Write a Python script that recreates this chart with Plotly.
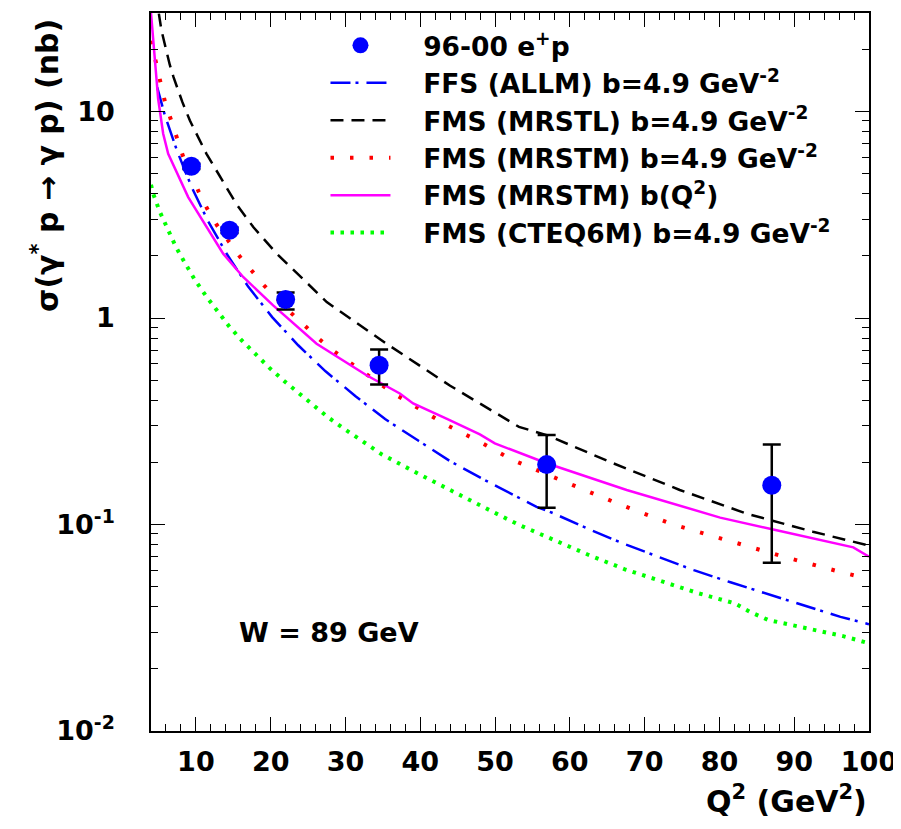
import math
import plotly.graph_objects as go

FONT = "DejaVu Sans"
PAD = "\u00a0\u00a0\u00a0"

# ---- data points (96-00 e+p) ----
q2_data = [9.4, 14.5, 22.0, 34.5, 56.9, 87.0]
sig_data = [5.43, 2.66, 1.23, 0.59, 0.195, 0.155]
sig_lo = [5.27, 2.58, 1.10, 0.476, 0.1205, 0.0653]
sig_hi = [5.59, 2.74, 1.33, 0.703, 0.271, 0.244]

# ---- model curves ----
q2_allm = [4.83, 5.86, 7.5, 9.43, 11.64, 14.18, 16.99, 20.2, 23.68, 27.34, 31.35, 35.3,
           39.72, 43.96, 48.5, 53.09, 55.55, 57.63, 62.31, 67.04, 71.8, 76.58, 81.48,
           86.38, 91.28, 96.19, 100.0]
sig_allm = [13.1, 9.57, 6.43, 4.31, 2.94, 2.03, 1.42, 1.01, 0.738, 0.552, 0.418, 0.324,
            0.255, 0.203, 0.165, 0.136, 0.1217, 0.114, 0.0958, 0.0811, 0.0698, 0.0601,
            0.0525, 0.0461, 0.0404, 0.0357, 0.0329]

q2_mrstl = [5.05, 5.4, 6.5, 7.0, 8.2, 9.2, 11.4, 14.5, 15.4, 17.7, 20.8, 27.5, 35.5,
            44.0, 53.2, 56.9, 65.8, 74.7, 83.6, 92.5, 100.0]
sig_mrstl = [29.8, 24.7, 16.9, 14.7, 11.1, 9.04, 6.26, 4.0, 3.57, 2.75, 2.05, 1.195, 0.75,
             0.47, 0.297, 0.271, 0.198, 0.147, 0.113, 0.0923, 0.079]

q2_mrstm = [4.0, 4.2, 4.7, 5.3, 5.9, 6.7, 7.5, 8.3, 10.4, 11.5, 12.8, 15.8, 17.5, 19.1,
            22.7, 24.6, 26.5, 28.4, 30.5, 32.5, 36.7, 39.0, 43.4, 48.0, 52.4, 59.5, 66.7,
            73.8, 81.3, 88.6, 96.1, 100.0]
sig_mrstm = [22.0, 20.5, 16.7, 13.6, 11.0, 9.05, 7.41, 6.04, 4.07, 3.39, 2.82, 2.0, 1.69,
             1.44, 1.06, 0.914, 0.79, 0.693, 0.611, 0.542, 0.425, 0.38, 0.305, 0.251,
             0.205, 0.16, 0.125, 0.1, 0.083, 0.0698, 0.059, 0.0545]

q2_bq2 = [4.0, 4.52, 4.96, 5.63, 6.30, 8.97, 11.43, 13.65, 16.32, 20.33, 26.14, 32.82,
          37.27, 39.05, 43.5, 47.97, 49.97, 56.9, 67.6, 80.1, 87.2, 97.9, 100.0]
sig_bq2 = [30.0, 18.7, 11.5, 7.8, 6.24, 3.85, 2.75, 2.05, 1.58, 1.152, 0.751, 0.528,
           0.431, 0.386, 0.326, 0.273, 0.247, 0.198, 0.147, 0.108, 0.0946, 0.0775, 0.0698]

q2_cteq = [4.0, 4.29, 5.19, 6.22, 7.33, 8.53, 9.87, 11.34, 12.85, 14.45, 16.15, 17.93,
           19.8, 21.67, 23.6, 25.6, 27.6, 30.0, 32.4, 34.83, 39.5, 43.96, 48.64, 53.09,
           57.77, 62.53, 67.35, 72.25, 77.15, 82.06, 84.06, 86.5, 91.64, 96.54, 100.0]
sig_cteq = [4.42, 4.0, 3.26, 2.68, 2.21, 1.85, 1.53, 1.28, 1.077, 0.911, 0.778, 0.668,
            0.575, 0.5, 0.437, 0.383, 0.332, 0.288, 0.252, 0.219, 0.178, 0.1466, 0.1205,
            0.1, 0.0841, 0.0712, 0.0607, 0.0529, 0.0465, 0.0415, 0.0378, 0.0345, 0.0314,
            0.0288, 0.0266]

# ---- axis ticks ----
x_ticks = [10, 20, 30, 40, 50, 60, 70, 80, 90, 100]
x_ticktext = [str(v) for v in x_ticks]
y_ticks = [0.01, 0.1, 1, 10]
y_ticktext = ["10<sup>-2</sup>", "10<sup>-1</sup>", "1", "10"]
y_minor = [m * 10.0 ** e for e in (-2, -1, 0, 1) for m in range(2, 10)]

fig = go.Figure()

fig.add_trace(go.Scatter(
    x=q2_allm, y=sig_allm, mode="lines", name=PAD + "FFS (ALLM) b=4.9 GeV<sup>-2</sup>",
    line=dict(color="#0000ff", width=2.5, dash="20px,5px,3px,8px"), legendrank=2))
fig.add_trace(go.Scatter(
    x=q2_mrstl, y=sig_mrstl, mode="lines", name=PAD + "FMS (MRSTL) b=4.9 GeV<sup>-2</sup>",
    line=dict(color="black", width=2.5, dash="13px,8px"), legendrank=3))
fig.add_trace(go.Scatter(
    x=q2_mrstm, y=sig_mrstm, mode="lines", name=PAD + "FMS (MRSTM) b=4.9 GeV<sup>-2</sup>",
    line=dict(color="#ff0000", width=4, dash="3.5px,16px"), legendrank=4))
fig.add_trace(go.Scatter(
    x=q2_bq2, y=sig_bq2, mode="lines", name=PAD + "FMS (MRSTM) b(Q<sup>2</sup>)",
    line=dict(color="#ff00ff", width=2.5), legendrank=5))
fig.add_trace(go.Scatter(
    x=q2_cteq, y=sig_cteq, mode="lines", name=PAD + "FMS (CTEQ6M) b=4.9 GeV<sup>-2</sup>",
    line=dict(color="#00ff00", width=4, dash="3.5px,6.5px"), legendrank=6))

fig.add_trace(go.Scatter(
    x=q2_data, y=sig_data, mode="markers", name=PAD + "96-00 e<sup>+</sup>p",
    marker=dict(color="#0000ff", size=19, line=dict(width=0)),
    error_y=dict(type="data", symmetric=False,
                 array=[h - v for h, v in zip(sig_hi, sig_data)],
                 arrayminus=[v - l for v, l in zip(sig_data, sig_lo)],
                 color="black", thickness=2.5, width=9),
    legendrank=1))

tickfont = dict(family=FONT, size=27, color="black", weight="bold")

fig.update_xaxes(
    range=[4, 100], tickmode="array", tickvals=x_ticks, ticktext=x_ticktext,
    ticks="inside", ticklen=14, tickwidth=1.3, tickcolor="black",
    showline=True, linewidth=1.5, linecolor="black", mirror="ticks",
    showgrid=False, zeroline=False, tickfont=tickfont, ticklabelstandoff=6,
    automargin=False,
    minor=dict(ticks="inside", ticklen=7, tickwidth=1, tickcolor="black",
               dtick=2, tick0=0, showgrid=False))
fig.update_yaxes(
    type="log", range=[-2, math.log10(30)], tickmode="array",
    tickvals=y_ticks, ticktext=y_ticktext,
    ticks="inside", ticklen=14, tickwidth=1.3, tickcolor="black",
    showline=True, linewidth=1.5, linecolor="black", mirror="ticks",
    showgrid=False, zeroline=False, tickfont=tickfont, ticklabelstandoff=29,
    automargin=False,
    minor=dict(ticks="inside", ticklen=7, tickwidth=1, tickcolor="black",
               tickmode="array", tickvals=y_minor, showgrid=False))

# page body has an 8px margin: figure is shrunk by 8px so the plot frame sits at
# x 151..869, y 13..731 of the 901x829 window
fig.update_layout(
    width=893, height=821,
    margin=dict(l=143, r=32, t=5, b=98, autoexpand=False),
    plot_bgcolor="white", paper_bgcolor="white",
    font=dict(family=FONT, color="black", weight="bold"),
    legend=dict(x=0.243, y=0.988, xanchor="left", yanchor="top",
                bgcolor="rgba(0,0,0,0)", borderwidth=0,
                font=dict(family=FONT, size=26.5, color="black", weight="bold"),
                itemwidth=60, tracegroupgap=0),
    annotations=[
        dict(text="W = 89 GeV", xref="paper", yref="paper", x=0.12, y=0.1365,
             xanchor="left", yanchor="middle", showarrow=False,
             font=dict(family=FONT, size=27, color="black", weight="bold")),
        dict(text="Q<sup>2</sup> (GeV<sup>2</sup>)", xref="paper", yref="paper",
             x=1.0, y=-0.096, xanchor="right", yanchor="middle", showarrow=False,
             font=dict(family=FONT, size=30, color="black", weight="bold")),
        dict(text="σ(γ<sup>*</sup> p → γ p) (nb)", xref="paper", yref="paper",
             x=-0.146, y=0.994, xanchor="center", yanchor="top", textangle=-90,
             showarrow=False,
             font=dict(family=FONT, size=30, color="black", weight="bold")),
    ],
)

fig.write_html("out.html")
